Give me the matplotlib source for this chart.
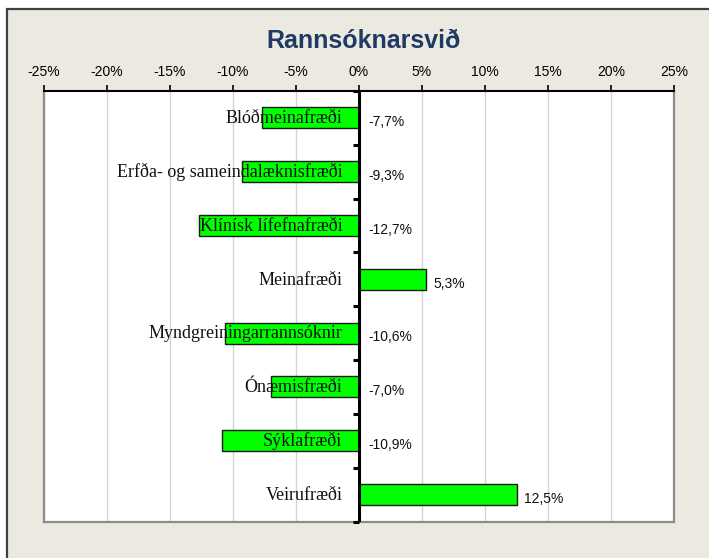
import matplotlib
matplotlib.use("Agg")
import matplotlib.pyplot as plt
from matplotlib.patches import Rectangle
from matplotlib.lines import TICKLEFT

# Research areas and their change (%)
categories = [
    "Blóðmeinafræði",
    "Erfða- og sameindalæknisfræði",
    "Klínísk lífefnafræði",
    "Meinafræði",
    "Myndgreiningarrannsóknir",
    "Ónæmisfræði",
    "Sýklafræði",
    "Veirufræði",
]
values = [-7.7, -9.3, -12.7, 5.3, -10.6, -7.0, -10.9, 12.5]
value_labels = ["-7,7%", "-9,3%", "-12,7%", "5,3%", "-10,6%", "-7,0%", "-10,9%", "12,5%"]
xticks = [-25, -20, -15, -10, -5, 0, 5, 10, 15, 20, 25]
xtick_labels = ["-25%", "-20%", "-15%", "-10%", "-5%", "0%", "5%", "10%", "15%", "20%", "25%"]
title = "Rannsóknarsvið"

W, H = 709, 558
fig = plt.figure(figsize=(W / 100, H / 100), dpi=100)
fig.patch.set_facecolor("white")

# Beige chart frame
frame = Rectangle((7 / W, -0.05), 1.2, 1 - 9 / H + 0.05, transform=fig.transFigure,
                  facecolor="#ECE9E0", edgecolor="#404040", linewidth=1.6, zorder=-10)
fig.patches.append(frame)

ax = fig.add_axes([44 / W, 1 - 521.5 / H, (674 - 44) / W, (521.5 - 91) / H])
ax.set_zorder(5)
ax.set_facecolor("white")

n = len(categories)
ypos = list(range(n))
ax.barh(ypos, values, height=0.39, color="#00FF00", edgecolor="#1A1A1A",
        linewidth=1.0, zorder=3)

ax.set_xlim(xticks[0], xticks[-1])
ax.set_ylim(n - 0.5, -0.5)

# x axis on top
ax.xaxis.set_ticks_position("top")
ax.xaxis.set_label_position("top")
ax.set_xticks(xticks)
ax.set_xticklabels(xtick_labels, fontfamily="Liberation Sans", fontsize=10)
ax.tick_params(axis="x", direction="out", length=4, width=1.2, pad=5, color="black")
ax.set_yticks([])
ax.grid(axis="x", color="#D4D4D4", linewidth=1.0, zorder=1)
ax.set_axisbelow(True)

for side in ("left", "right", "bottom"):
    ax.spines[side].set_color("#8C8C8C")
    ax.spines[side].set_linewidth(1.6)
ax.spines["top"].set_color("black")
ax.spines["top"].set_linewidth(1.5)

# Vertical category axis at zero with tick marks between categories
ax.axvline(0, color="black", linewidth=2.2, zorder=4)
bounds = [k - 0.5 for k in range(n + 1)]
ax.plot([0] * len(bounds), bounds, linestyle="none", marker=TICKLEFT,
        markersize=4, markeredgewidth=2.2, color="black", zorder=4, clip_on=False)

# Category labels, right-aligned left of the axis
for y, name in zip(ypos, categories):
    ax.annotate(name, xy=(0, y), xytext=(-12.0, -0.5), textcoords="offset points",
                ha="right", va="center", fontfamily="Liberation Serif", fontsize=13,
                color="#111111", zorder=5)

# Value labels
for y, v, lab in zip(ypos, values, value_labels):
    x0 = max(v, 0)
    dx = 6.5 if v < 0 else 5.5
    ax.annotate(lab, xy=(x0, y), xytext=(dx, -3.0), textcoords="offset points",
                ha="left", va="center", fontfamily="Liberation Sans", fontsize=10,
                color="#111111", zorder=5)

fig.text(364 / W, 1 - 41 / H, title, ha="center", va="center",
         fontfamily="Liberation Sans", fontweight="bold", fontsize=18, color="#1F3B64")

fig.savefig("out.png", dpi=100, facecolor=fig.get_facecolor())
